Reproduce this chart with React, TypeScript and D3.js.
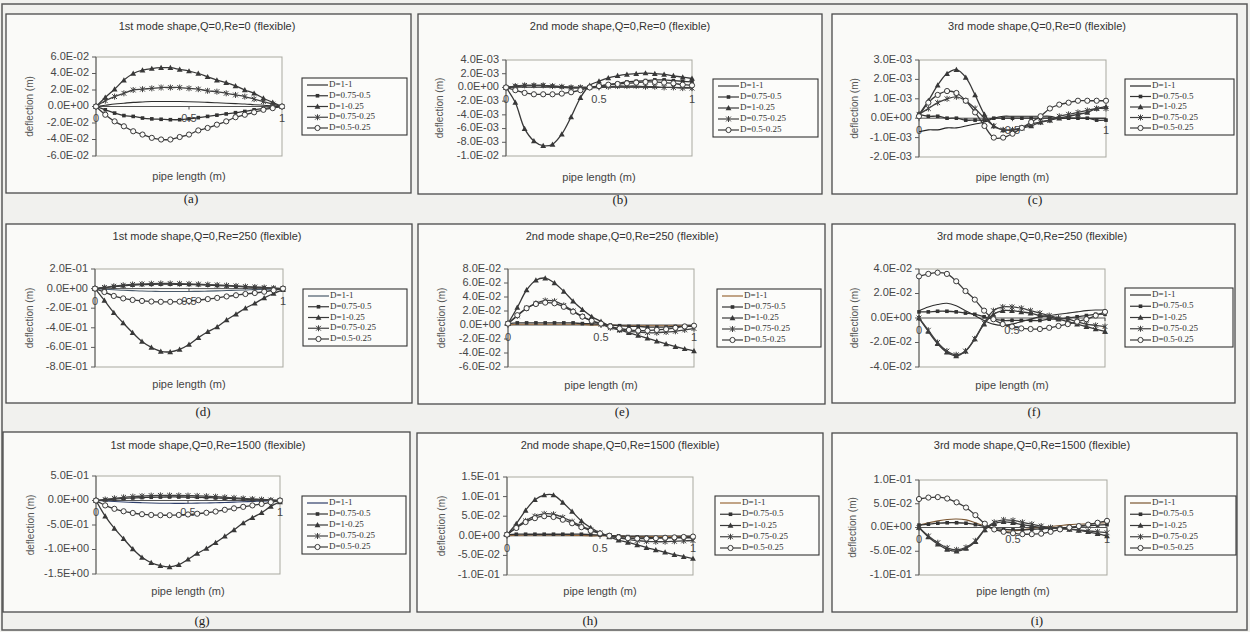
import React from "react";
import * as d3 from "d3";

// Positions along the pipe (m)
const xs = [0, 0.05, 0.1, 0.15, 0.2, 0.25, 0.3, 0.35, 0.4, 0.45, 0.5, 0.55, 0.6, 0.65, 0.7, 0.75, 0.8, 0.85, 0.9, 0.95, 1];
const xTicks = [0, 0.5, 1];
const seriesNames = ["D=1-1", "D=0.75-0.5", "D=1-0.25", "D=0.75-0.25", "D=0.5-0.25"];

// (a) 1st mode, Re=0
const a11 = [0, 0.0015, 0.003, 0.004, 0.005, 0.0055, 0.006, 0.006, 0.006, 0.006, 0.0058, 0.0055, 0.005, 0.0045, 0.004, 0.0035, 0.003, 0.0022, 0.0015, 0.0008, 0];
const a75_50 = [0, -0.004, -0.008, -0.011, -0.012, -0.014, -0.015, -0.0155, -0.016, -0.016, -0.015, -0.0135, -0.012, -0.0105, -0.009, -0.0075, -0.006, -0.004, -0.0025, -0.001, 0];
const a100_25 = [0, 0.011, 0.021, 0.032, 0.04, 0.044, 0.046, 0.047, 0.047, 0.045, 0.043, 0.04, 0.036, 0.032, 0.029, 0.025, 0.02, 0.016, 0.01, 0.005, 0];
const a75_25 = [0, 0.007, 0.012, 0.016, 0.02, 0.021, 0.022, 0.023, 0.023, 0.023, 0.022, 0.021, 0.019, 0.018, 0.016, 0.014, 0.012, 0.009, 0.006, 0.003, 0];
const a50_25 = [0, -0.01, -0.018, -0.024, -0.03, -0.034, -0.038, -0.04, -0.04, -0.037, -0.034, -0.029, -0.026, -0.022, -0.018, -0.013, -0.01, -0.007, -0.004, -0.002, 0];

// (b) 2nd mode, Re=0
const b11 = [0, 0.0001, 0.0002, 0.0002, 0.0002, 0.0001, 0, -0.0001, -0.0001, -0.0001, 0, 0.0001, 0.0001, 0.0001, 0.0001, 0.0001, 0, 0, 0, 0, 0];
const b75_50 = [0, 0.0002, 0.0003, 0.0003, 0.0003, 0.0002, 0.0001, 0, 0, 0, 0.0002, 0.0004, 0.0006, 0.0008, 0.0009, 0.001, 0.0011, 0.0011, 0.001, 0.0009, 0.0008];
const b100_25 = [0, -0.0022, -0.006, -0.0078, -0.0085, -0.0083, -0.0068, -0.0043, -0.0015, 0.0003, 0.0009, 0.0014, 0.0017, 0.0019, 0.002, 0.0021, 0.002, 0.0019, 0.0017, 0.0015, 0.0013];
const b75_25 = [0, 0.0002, 0.0003, 0.0003, 0.0003, 0.0002, 0.0001, 0, 0, 0, 0.0001, 0.0001, 0.0002, 0.0002, 0.0002, 0.0001, 0.0001, 0, 0, -0.0001, -0.0001];
const b50_25 = [0, -0.0004, -0.0008, -0.001, -0.001, -0.001, -0.0009, -0.0007, -0.0004, 0, 0.0002, 0.0004, 0.0005, 0.0006, 0.0007, 0.0008, 0.0008, 0.0007, 0.0006, 0.0004, 0.0003];

// (c) 3rd mode, Re=0
const c11 = [-0.0007, -0.0006, -0.0006, -0.0005, -0.0005, -0.0004, -0.0003, -0.0002, 0, 0.0001, 0.0001, 0.0001, 0.0001, 0.0001, 0.0001, 0, 0, 0, 0, 0, 0];
const c75_50 = [0.0002, 0.0001, 0.0001, 0, 0, -0.0001, -0.0001, -0.0001, 0, 0, 0, 0, 0, 0, 0, 0, 0, 0, 0, -0.0001, -0.0001];
const c100_25 = [0.0002, 0.0009, 0.0017, 0.0023, 0.0025, 0.0021, 0.0012, 0.0002, -0.0004, -0.0006, -0.0006, -0.0005, -0.0004, -0.0002, -0.0001, 0, 0.0001, 0.0002, 0.0003, 0.0005, 0.0006];
const c75_25 = [0.0002, 0.0005, 0.0008, 0.001, 0.0011, 0.0009, 0.0005, 0, -0.0004, -0.0006, -0.0006, -0.0005, -0.0003, -0.0002, -0.0001, 0.0001, 0.0002, 0.0003, 0.0004, 0.0005, 0.0005];
const c50_25 = [0.0001, 0.0008, 0.0012, 0.0014, 0.0013, 0.0009, 0.0003, -0.0004, -0.001, -0.001, -0.0008, -0.0005, -0.0002, 0.0001, 0.0005, 0.0007, 0.0008, 0.0009, 0.0009, 0.0009, 0.0009];

// (d) 1st mode, Re=250
const d11 = [0, -0.006, -0.012, -0.017, -0.021, -0.025, -0.027, -0.029, -0.03, -0.03, -0.029, -0.028, -0.026, -0.023, -0.02, -0.017, -0.014, -0.01, -0.007, -0.003, 0];
const d75_50 = [0, 0.01, 0.02, 0.028, 0.035, 0.04, 0.043, 0.045, 0.045, 0.044, 0.042, 0.039, 0.035, 0.031, 0.027, 0.022, 0.018, 0.013, 0.009, 0.004, 0];
const d100_25 = [0, -0.12, -0.245, -0.35, -0.45, -0.54, -0.6, -0.64, -0.645, -0.62, -0.57, -0.5, -0.44, -0.39, -0.32, -0.26, -0.2, -0.15, -0.095, -0.05, -0.01];
const d75_25 = [0, 0.012, 0.024, 0.034, 0.042, 0.047, 0.05, 0.052, 0.052, 0.05, 0.048, 0.045, 0.041, 0.037, 0.032, 0.027, 0.021, 0.016, 0.011, 0.005, 0];
const d50_25 = [0, -0.035, -0.075, -0.1, -0.116, -0.126, -0.132, -0.135, -0.135, -0.133, -0.126, -0.118, -0.107, -0.095, -0.08, -0.068, -0.055, -0.045, -0.032, -0.017, 0];

// (e) 2nd mode, Re=250
const e11 = [0, 0.001, 0.001, 0.001, 0.001, 0.001, 0.001, 0.001, 0.001, 0, 0, 0, -0.001, -0.001, -0.001, -0.001, -0.001, -0.001, -0.001, -0.001, -0.001];
const e75_50 = [0.002, 0.003, 0.003, 0.003, 0.003, 0.003, 0.003, 0.003, 0.002, 0.002, 0.001, 0, -0.001, -0.002, -0.002, -0.003, -0.003, -0.003, -0.002, -0.002, -0.002];
const e100_25 = [0.002, 0.025, 0.05, 0.064, 0.067, 0.06, 0.048, 0.034, 0.022, 0.012, 0.005, -0.002, -0.007, -0.011, -0.015, -0.019, -0.023, -0.027, -0.031, -0.034, -0.037];
const e75_25 = [0.002, 0.013, 0.024, 0.031, 0.035, 0.034, 0.028, 0.02, 0.012, 0.006, 0.001, -0.004, -0.007, -0.009, -0.01, -0.011, -0.011, -0.01, -0.009, -0.007, -0.005];
const e50_25 = [0.002, 0.014, 0.024, 0.03, 0.032, 0.031, 0.026, 0.019, 0.012, 0.006, 0.002, -0.002, -0.005, -0.007, -0.008, -0.008, -0.007, -0.006, -0.004, -0.002, -0.001];

// (f) 3rd mode, Re=250
const f11 = [0.006, 0.009, 0.011, 0.012, 0.01, 0.006, 0.002, -0.002, -0.005, -0.006, -0.005, -0.003, -0.001, 0.001, 0.002, 0.003, 0.004, 0.005, 0.006, 0.0065, 0.0065];
const f75_50 = [0.005, 0.005, 0.0055, 0.0055, 0.005, 0.004, 0.003, 0.001, -0.001, -0.002, -0.002, -0.002, -0.002, -0.002, -0.001, -0.001, 0, 0.001, 0.002, 0.003, 0.003];
const f100_25 = [0, -0.011, -0.021, -0.028, -0.031, -0.027, -0.017, -0.005, 0.003, 0.006, 0.006, 0.005, 0.004, 0.002, 0.001, -0.001, -0.003, -0.005, -0.007, -0.009, -0.011];
const f75_25 = [0, -0.01, -0.02, -0.027, -0.03, -0.027, -0.017, -0.004, 0.006, 0.009, 0.009, 0.008, 0.006, 0.004, 0.002, 0, -0.001, -0.003, -0.005, -0.006, -0.007];
const f50_25 = [0.034, 0.036, 0.037, 0.036, 0.03, 0.022, 0.015, 0.006, -0.001, -0.005, -0.007, -0.0085, -0.009, -0.009, -0.008, -0.0065, -0.005, -0.003, -0.001, 0.002, 0.005];

// (g) 1st mode, Re=1500
const g11 = [0, -0.01, -0.02, -0.03, -0.038, -0.045, -0.05, -0.055, -0.057, -0.058, -0.057, -0.054, -0.05, -0.045, -0.04, -0.034, -0.027, -0.02, -0.013, -0.006, 0];
const g75_50 = [0, 0.015, 0.03, 0.042, 0.052, 0.06, 0.066, 0.07, 0.072, 0.072, 0.07, 0.066, 0.06, 0.053, 0.046, 0.038, 0.03, 0.022, 0.014, 0.007, 0];
const g100_25 = [0, -0.32, -0.57, -0.78, -0.99, -1.16, -1.27, -1.33, -1.355, -1.31, -1.2, -1.08, -0.98, -0.86, -0.73, -0.6, -0.46, -0.35, -0.25, -0.12, -0.03];
const g75_25 = [0, 0.02, 0.045, 0.065, 0.08, 0.09, 0.1, 0.105, 0.105, 0.103, 0.1, 0.095, 0.088, 0.078, 0.066, 0.054, 0.042, 0.03, 0.02, 0.01, 0];
const g50_25 = [0, -0.1, -0.17, -0.22, -0.255, -0.28, -0.295, -0.3, -0.3, -0.295, -0.285, -0.27, -0.25, -0.225, -0.19, -0.16, -0.13, -0.1, -0.07, -0.035, 0];

// (h) 2nd mode, Re=1500
const h11 = [0, 0.001, 0.002, 0.002, 0.002, 0.002, 0.002, 0.001, 0.001, 0, 0, 0, -0.001, -0.002, -0.002, -0.002, -0.002, -0.002, -0.002, -0.002, -0.002];
const h75_50 = [0.003, 0.004, 0.004, 0.004, 0.004, 0.004, 0.004, 0.004, 0.004, 0.003, 0.002, 0.001, 0, -0.002, -0.003, -0.004, -0.005, -0.005, -0.005, -0.005, -0.005];
const h100_25 = [0.003, 0.031, 0.065, 0.092, 0.104, 0.104, 0.085, 0.062, 0.038, 0.021, 0.007, -0.003, -0.011, -0.017, -0.023, -0.03, -0.036, -0.042, -0.048, -0.053, -0.058];
const h75_25 = [0.003, 0.022, 0.038, 0.05, 0.056, 0.055, 0.047, 0.036, 0.025, 0.015, 0.007, 0, -0.005, -0.009, -0.012, -0.014, -0.015, -0.015, -0.014, -0.013, -0.012];
const h50_25 = [0.003, 0.02, 0.035, 0.045, 0.05, 0.048, 0.041, 0.032, 0.022, 0.013, 0.006, 0, -0.004, -0.006, -0.007, -0.007, -0.006, -0.005, -0.004, -0.003, -0.002];

// (i) 3rd mode, Re=1500
const i11 = [0.005, 0.01, 0.014, 0.017, 0.018, 0.016, 0.01, 0.003, -0.004, -0.008, -0.007, -0.005, -0.002, 0, 0.002, 0.004, 0.006, 0.007, 0.008, 0.009, 0.01];
const i75_50 = [0.005, 0.007, 0.009, 0.01, 0.01, 0.009, 0.006, 0.002, -0.002, -0.004, -0.005, -0.005, -0.004, -0.003, -0.002, -0.001, 0, 0.002, 0.004, 0.005, 0.006];
const i100_25 = [0, -0.02, -0.035, -0.046, -0.05, -0.044, -0.03, -0.005, 0.008, 0.012, 0.01, 0.006, 0.003, 0, -0.001, -0.002, -0.004, -0.006, -0.009, -0.013, -0.018];
const i75_25 = [0, -0.018, -0.032, -0.043, -0.047, -0.042, -0.028, -0.004, 0.011, 0.016, 0.015, 0.011, 0.007, 0.003, 0, -0.002, -0.003, -0.005, -0.007, -0.009, -0.011];
const i50_25 = [0.06, 0.063, 0.064, 0.061, 0.053, 0.042, 0.026, 0.008, -0.004, -0.009, -0.012, -0.014, -0.014, -0.013, -0.009, -0.004, 0, 0.003, 0.006, 0.01, 0.014];

// Value-axis ticks per chart
const aTicks = [0.06, 0.04, 0.02, 0, -0.02, -0.04, -0.06];
const bTicks = [0.004, 0.002, 0, -0.002, -0.004, -0.006, -0.008, -0.01];
const cTicks = [0.003, 0.002, 0.001, 0, -0.001, -0.002];
const dTicks = [0.2, 0, -0.2, -0.4, -0.6, -0.8];
const eTicks = [0.08, 0.06, 0.04, 0.02, 0, -0.02, -0.04, -0.06];
const fTicks = [0.04, 0.02, 0, -0.02, -0.04];
const gTicks = [0.5, 0, -0.5, -1.0, -1.5];
const hTicks = [0.15, 0.1, 0.05, 0, -0.05, -0.1];
const iTicks = [0.1, 0.05, 0, -0.05, -0.1];

const titles = [
  "1st mode shape,Q=0,Re=0 (flexible)",
  "2nd mode shape,Q=0,Re=0 (flexible)",
  "3rd mode shape,Q=0,Re=0 (flexible)",
  "1st mode shape,Q=0,Re=250 (flexible)",
  "2nd mode shape,Q=0,Re=250 (flexible)",
  "3rd mode shape,Q=0,Re=250 (flexible)",
  "1st mode shape,Q=0,Re=1500 (flexible)",
  "2nd mode shape,Q=0,Re=1500 (flexible)",
  "3rd mode shape,Q=0,Re=1500 (flexible)",
];
const tags = ["(a)", "(b)", "(c)", "(d)", "(e)", "(f)", "(g)", "(h)", "(i)"];

const panelSeries = [
  [a11, a75_50, a100_25, a75_25, a50_25],
  [b11, b75_50, b100_25, b75_25, b50_25],
  [c11, c75_50, c100_25, c75_25, c50_25],
  [d11, d75_50, d100_25, d75_25, d50_25],
  [e11, e75_50, e100_25, e75_25, e50_25],
  [f11, f75_50, f100_25, f75_25, f50_25],
  [g11, g75_50, g100_25, g75_25, g50_25],
  [h11, h75_50, h100_25, h75_25, h50_25],
  [i11, i75_50, i100_25, i75_25, i50_25],
];
const panelTicks = [aTicks, bTicks, cTicks, dTicks, eTicks, fTicks, gTicks, hTicks, iTicks];

// Layout: frame box, plot area [x0, y0, x1, y1], legend box, tag/title positions
type Layout = {
  box: [number, number, number, number];
  plot: [number, number, number, number];
  legend: [number, number, number, number];
  titleX: number;
  titleY: number;
  tagX: number;
  tagY: number;
  yTitleX: number;
  xTitleY: number;
  flatColor: string;
};
const layouts: Layout[] = [
  { box: [6, 14, 411, 193], plot: [96, 57, 282, 156], legend: [302, 78, 407, 135], titleX: 207, titleY: 27, tagX: 191, tagY: 200, yTitleX: 30, xTitleY: 177, flatColor: "#2e2e2e" },
  { box: [418, 14, 822, 194], plot: [506, 60, 692, 156], legend: [713, 79, 818, 137], titleX: 620, titleY: 27, tagX: 620, tagY: 201, yTitleX: 440, xTitleY: 178, flatColor: "#3a3a3a" },
  { box: [832, 14, 1237, 194], plot: [919, 60, 1106, 157], legend: [1125, 79, 1234, 135], titleX: 1037, titleY: 27, tagX: 1035, tagY: 201, yTitleX: 855, xTitleY: 178, flatColor: "#222" },
  { box: [6, 224, 412, 403], plot: [95, 269, 283, 367], legend: [303, 289, 407, 346], titleX: 207, titleY: 237, tagX: 203, tagY: 413, yTitleX: 30, xTitleY: 385, flatColor: "#4a5a6a" },
  { box: [418, 224, 825, 404], plot: [508, 269, 694, 367], legend: [717, 289, 821, 347], titleX: 622, titleY: 237, tagX: 622, tagY: 413, yTitleX: 442, xTitleY: 386, flatColor: "#9a6a3a" },
  { box: [832, 224, 1235, 403], plot: [919, 269, 1105, 367], legend: [1125, 288, 1233, 347], titleX: 1032, titleY: 237, tagX: 1034, tagY: 413, yTitleX: 855, xTitleY: 386, flatColor: "#2e2e2e" },
  { box: [3, 432, 410, 612], plot: [96, 476, 280, 574], legend: [302, 496, 406, 554], titleX: 208, titleY: 446, tagX: 202, tagY: 622, yTitleX: 31, xTitleY: 592, flatColor: "#2f3f6a" },
  { box: [417, 433, 823, 612], plot: [507, 477, 693, 575], legend: [715, 496, 819, 555], titleX: 620, titleY: 446, tagX: 590, tagY: 622, yTitleX: 442, xTitleY: 592, flatColor: "#9a6a3a" },
  { box: [832, 433, 1237, 612], plot: [919, 480, 1107, 575], legend: [1125, 496, 1236, 555], titleX: 1032, titleY: 446, tagX: 1037, tagY: 622, yTitleX: 853, xTitleY: 592, flatColor: "#7a5530" },
];

const fmtE = (v: number) => {
  if (v === 0) return "0.0E+00";
  const e = Math.floor(Math.log10(Math.abs(v)) + 1e-9);
  const m = v / Math.pow(10, e);
  const sign = e < 0 ? "-" : "+";
  return `${m.toFixed(1)}E${sign}${String(Math.abs(e)).padStart(2, "0")}`;
};

const SANS = "'Liberation Sans', Arial, sans-serif";
const SERIF = "'Liberation Serif', 'Times New Roman', serif";
const INK = "#333";

function Marker({ kind, cx, cy, color }: { kind: number; cx: number; cy: number; color: string }) {
  if (kind === 1) {
    return <rect x={cx - 1.8} y={cy - 1.8} width={3.6} height={3.6} fill={color} />;
  }
  if (kind === 2) {
    const s = 2.9;
    return <path d={`M${cx},${cy - s} L${cx + s},${cy + s * 0.8} L${cx - s},${cy + s * 0.8} Z`} fill={color} />;
  }
  if (kind === 3) {
    const s = 2.4;
    return (
      <path
        d={`M${cx - s},${cy - s} L${cx + s},${cy + s} M${cx - s},${cy + s} L${cx + s},${cy - s} M${cx},${cy - s - 0.6} L${cx},${cy + s + 0.6}`}
        stroke={color}
        strokeWidth={1}
        fill="none"
      />
    );
  }
  if (kind === 4) {
    return <circle cx={cx} cy={cy} r={2.6} fill="#fbfbf9" stroke={color} strokeWidth={1} />;
  }
  return null;
}

function Panel({ idx }: { idx: number }) {
  const L = layouts[idx];
  const ticks = panelTicks[idx];
  const series = panelSeries[idx];
  const [px0, py0, px1, py1] = L.plot;
  const yMax = d3.max(ticks) as number;
  const yMin = d3.min(ticks) as number;
  const x = d3.scaleLinear().domain([0, 1]).range([px0, px1]);
  const y = d3.scaleLinear().domain([yMin, yMax]).range([py1, py0]);
  const line = d3
    .line<number>()
    .x((_, i) => x(xs[i]))
    .y((d) => y(d))
    .curve(d3.curveCatmullRom);
  const colors = [L.flatColor, "#333", "#383838", "#404040", "#3a3a3a"];
  const [bx0, by0, bx1, by1] = L.box;
  const [lx0, ly0, lx1, ly1] = L.legend;
  const rowH = (ly1 - ly0 - 14) / 4;
  const y0 = y(0);

  return (
    <g>
      <rect x={bx0} y={by0} width={bx1 - bx0} height={by1 - by0} fill="#fafaf8" stroke="#4a4a4a" strokeWidth={1.3} />
      <text x={L.titleX} y={L.titleY} fontFamily={SANS} fontSize={11} fill={INK} textAnchor="middle" dominantBaseline="middle">
        {titles[idx]}
      </text>
      {/* plot area */}
      <rect x={px0} y={py0} width={px1 - px0} height={py1 - py0} fill="#fcfcfa" stroke="#a9a9a0" strokeWidth={1} />
      <line x1={px0} x2={px0} y1={py0} y2={py1} stroke="#5a5a5a" strokeWidth={1} />
      {ticks.map((t) => (
        <g key={t}>
          <line x1={px0 - 4} x2={px0} y1={y(t)} y2={y(t)} stroke="#5a5a5a" strokeWidth={1} />
          <text x={px0 - 7} y={y(t)} fontFamily={SANS} fontSize={11} fill="#474747" textAnchor="end" dominantBaseline="middle">
            {fmtE(t)}
          </text>
        </g>
      ))}
      {/* category axis on the zero line */}
      <line x1={px0} x2={px1} y1={y0} y2={y0} stroke="#555" strokeWidth={1} />
      {xTicks.map((t) => (
        <g key={t}>
          <line x1={x(t)} x2={x(t)} y1={y0} y2={y0 + 3} stroke="#555" strokeWidth={1} />
          <text x={x(t)} y={y0 + 13} fontFamily={SANS} fontSize={11} fill="#474747" textAnchor="middle" dominantBaseline="middle">
            {t}
          </text>
        </g>
      ))}
      <text
        transform={`translate(${L.yTitleX},${(py0 + py1) / 2}) rotate(-90)`}
        fontFamily={SANS}
        fontSize={10}
        fill="#555"
        textAnchor="middle"
        dominantBaseline="middle"
      >
        deflection (m)
      </text>
      <text x={(px0 + px1) / 2} y={L.xTitleY} fontFamily={SANS} fontSize={11} fill="#444" textAnchor="middle" dominantBaseline="middle">
        pipe length (m)
      </text>
      {/* curves */}
      {series.map((vals, s) => (
        <g key={s}>
          <path d={line(vals) || ""} fill="none" stroke={colors[s]} strokeWidth={s === 0 ? 1.1 : 1.3} />
          {s > 0 && vals.map((v, i) => <Marker key={i} kind={s} cx={x(xs[i])} cy={y(v)} color={colors[s]} />)}
        </g>
      ))}
      {/* legend */}
      <rect x={lx0} y={ly0} width={lx1 - lx0} height={ly1 - ly0} fill="#fcfcfa" stroke="#333" strokeWidth={1.1} />
      {seriesNames.map((name, s) => {
        const ry = ly0 + 7 + s * rowH;
        return (
          <g key={name}>
            <line x1={lx0 + 5} x2={lx0 + 26} y1={ry} y2={ry} stroke={colors[s]} strokeWidth={1.2} />
            {s > 0 && <Marker kind={s} cx={lx0 + 15.5} cy={ry} color={colors[s]} />}
            <text x={lx0 + 27} y={ry} fontFamily={SERIF} fontSize={9} fill={INK} dominantBaseline="middle">
              {name}
            </text>
          </g>
        );
      })}
      <text x={L.tagX} y={L.tagY} fontFamily={SERIF} fontSize={13} fill="#222" textAnchor="middle" dominantBaseline="middle">
        {tags[idx]}
      </text>
    </g>
  );
}

export default function App() {
  return (
    <div style={{ position: "absolute", left: 0, top: 0 }}>
      <svg width={1250} height={632} style={{ display: "block" }}>
        <rect x={0} y={0} width={1250} height={632} fill="#f1f1ee" />
        <rect x={2} y={4} width={1245} height={626} fill="none" stroke="#5a5a5a" strokeWidth={1.5} />
        {layouts.map((_, i) => (
          <Panel key={i} idx={i} />
        ))}
      </svg>
    </div>
  );
}
